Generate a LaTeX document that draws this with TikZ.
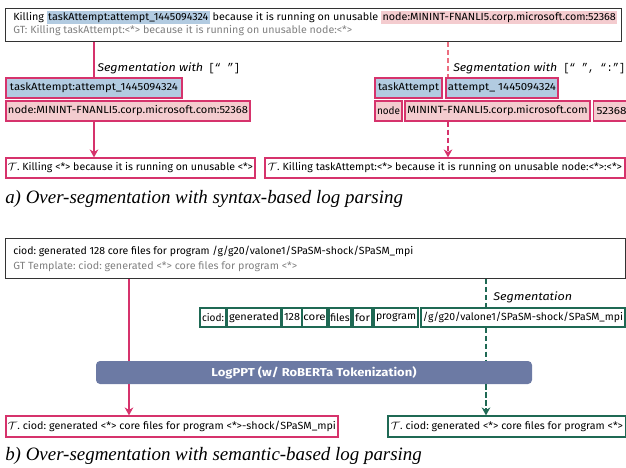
\documentclass[tikz,border=0pt]{standalone}
\usepackage{fontspec}
\usepackage{graphicx}
\usetikzlibrary{arrows.meta}
\newfontfamily\fira{Fira Sans}
\newfontfamily\capfont{Liberation Serif}
\newfontfamily\monofont{Liberation Mono}
\definecolor{pinkc}{RGB}{214,51,108}
\definecolor{pinklight}{RGB}{236,110,128}
\definecolor{bluefill}{RGB}{178,203,225}
\definecolor{pinkfill}{RGB}{244,204,207}
\definecolor{greenc}{RGB}{31,105,84}
\definecolor{barc}{RGB}{108,122,164}
\definecolor{graytext}{RGB}{128,128,128}
\setlength{\fboxsep}{1pt}
\frenchspacing
\newcommand\fitt[2]{\resizebox{#1}{\height}{#2}}
\newcommand\widen[1]{\scalebox{1.1}[1]{#1}}
\begin{document}
\begin{tikzpicture}[x=0.75pt,y=-0.75pt,
  font=\fira\fontsize{7.8}{9}\selectfont,
  frame/.style={draw=black!80, line width=0.7pt, inner sep=0pt},
  line/.style={anchor=base west, inner sep=0pt},
  tok/.style={draw=pinkc, line width=0.9pt, inner sep=0pt, minimum height=15pt},
  bluetok/.style={tok, fill=bluefill},
  pinktok/.style={tok, fill=pinkfill},
  restok/.style={tok, fill=white},
  gtok/.style={draw=greenc, line width=0.9pt, inner sep=0pt, minimum height=14.25pt},
  gres/.style={draw=greenc, line width=0.9pt, fill=white, inner sep=0pt, minimum height=15.75pt},
  conn/.style={line width=1.1pt},
  dsh/.style={dash pattern=on 4pt off 2pt},
  tip/.style={-{Stealth[length=6pt,width=6.5pt]}},
  seglab/.style={anchor=base west, inner sep=0pt, font=\fira\fontsize{8.4}{10}\selectfont\itshape},
  caption/.style={anchor=base west, inner sep=0pt, font=\capfont\fontsize{14.2}{16}\selectfont\itshape}
]
\useasboundingbox (0,0) rectangle (626,468);

% ---------------- part a ----------------
\node[frame, anchor=north west, minimum width=462pt, minimum height=24.75pt] (topa) at (5,8) {};
\node[line] (a1) at (13,20) {\fitt{453pt}{Killing \colorbox{bluefill}{taskAttempt:attempt\_1445094324} because it is running on unusable \colorbox{pinkfill}{node:MININT-FNANLI5.corp.microsoft.com:52368}}};
\node[line, text=graytext] (a2) at (13,33) {\fitt{254.25pt}{GT: Killing taskAttempt:<*> because it is running on unusable node:<*>}};

\node[bluetok, minimum width=132pt] (blueL) at (94,88) {\fitt{126pt}{taskAttempt:attempt\_1445094324}};
\node[pinktok, minimum width=183pt] (pinkL) at (128,111) {\fitt{180pt}{node:MININT-FNANLI5.corp.microsoft.com:52368}};
\node[restok, minimum width=186.75pt] (resL) at (130.5,168) {\fitt{183.75pt}{$\mathcal{T}$. Killing <*> because it is running on unusable <*>}};

\node[bluetok, minimum width=50.25pt] (blueR1) at (408.5,88) {\fitt{45.75pt}{taskAttempt}};
\node[bluetok, minimum width=84pt] (blueR2) at (502,88) {\fitt{81pt}{attempt\_ 1445094324}};
\node[pinktok, minimum width=20.25pt] (pinkR1) at (388.5,111) {\fitt{17.25pt}{node}};
\node[pinktok, minimum width=138.75pt] (pinkR2) at (497.5,111) {\fitt{135pt}{MININT-FNANLI5.corp.microsoft.com}};
\node[pinktok, minimum width=27pt, anchor=west] (pinkR3) at (593,111) {\fitt{22.5pt}{52368}};
\node[restok, minimum width=270pt] (resR) at (445,168) {\fitt{265.5pt}{$\mathcal{T}$. Killing taskAttempt:<*> because it is running on unusable node:<*>:<*>}};

\coordinate (ra) at (448,0);
\draw[pinkc, conn] (blueL.north |- topa.south) -- (blueL.north);
\draw[pinkc, conn, tip] (blueL.north |- pinkL.south) -- (blueL.north |- resL.north);
\draw[pinklight, conn, dsh] (ra |- topa.south) -- (ra |- blueR2.north);
\draw[pinkc, conn, dsh, tip] (ra |- pinkR2.south) -- (ra |- resR.north);

\node[seglab] (segL) at (97,71) {\fitt{79.5pt}{Segmentation with}};
\node[seglab, font=\monofont\fontsize{8.4}{10}\selectfont] (brL) at (208,71) {\fitt{24pt}{[“ ”]}};
\node[seglab] (segR) at (453,71) {\fitt{78pt}{Segmentation with}};
\node[seglab, font=\monofont\fontsize{8.4}{10}\selectfont] (brR) at (563,71) {\fitt{46.5pt}{[“ ”, “:”]}};

\node[caption] (capa) at (5,203) {a) Over-segmentation with syntax-based log parsing};

% ---------------- part b ----------------
\node[frame, anchor=north west, minimum width=465pt, minimum height=30pt] (topb) at (5,238) {};
\node[line] (b1) at (13,254) {\fitt{300pt}{ciod: generated 128 core files for program /g/g20/valone1/SPaSM-shock/SPaSM\_mpi}};
\node[line, text=graytext] (b2) at (13,269) {\fitt{213pt}{GT Template: ciod: generated <*> core files for program <*>}};

\node[gtok, minimum width=19.5pt] (t1) at (213,317.5) {\fitt{16.5pt}{ciod:}};
\node[gtok, minimum width=40.5pt] (t2) at (254,317.5) {\fitt{37.5pt}{generated}};
\node[gtok, minimum width=15pt] (t3) at (292,317.5) {\fitt{12pt}{128}};
\node[gtok, minimum width=18.75pt] (t4) at (314.5,317.5) {\widen{core}};
\node[gtok, minimum width=16.5pt] (t5) at (340,317.5) {files};
\node[gtok, minimum width=14.25pt] (t6) at (362.5,317.5) {\widen{for}};
\node[gtok, minimum width=33pt] (t7) at (396,317.5) {\fitt{30pt}{program}};
\node[gtok, minimum width=153pt] (t8) at (523,317.5) {\fitt{150pt}{/g/g20/valone1/SPaSM-shock/SPaSM\_mpi}};

\node[fill=barc, rounded corners=3pt, minimum width=327pt, minimum height=17.25pt, inner sep=0pt,
      text=white, font=\fira\fontsize{8.6}{10}\selectfont\bfseries] (bar) at (314,372.5) {\fitt{153.75pt}{LogPPT (w/ RoBERTa Tokenization)}};

\node[restok, minimum width=249pt, minimum height=15.75pt] (resbL) at (172,426.5) {\fitt{246pt}{$\mathcal{T}$. ciod: generated <*> core files for program <*>-shock/SPaSM\_mpi}};
\node[gres, minimum width=178.5pt] (resbR) at (507,426.5) {\fitt{174pt}{$\mathcal{T}$. ciod: generated <*> core files for program <*>}};

\coordinate (lb) at (129,0);
\coordinate (rb) at (486,0);
\draw[pinkc, conn] (lb |- topb.south) -- (lb |- bar.north);
\draw[pinkc, conn, tip] (lb |- bar.south) -- (lb |- resbL.north);
\draw[greenc, conn, dsh] (rb |- topb.south) -- (rb |- t8.north);
\draw[greenc, conn, dsh] (rb |- t8.south) -- (rb |- bar.north);
\draw[greenc, conn, dsh, tip] (rb |- bar.south) -- (rb |- resbR.north);

\node[seglab] (segB) at (493,300) {\fitt{59.25pt}{Segmentation}};

\node[caption] (capb) at (5,460) {b) Over-segmentation with semantic-based log parsing};
\end{tikzpicture}
\end{document}
